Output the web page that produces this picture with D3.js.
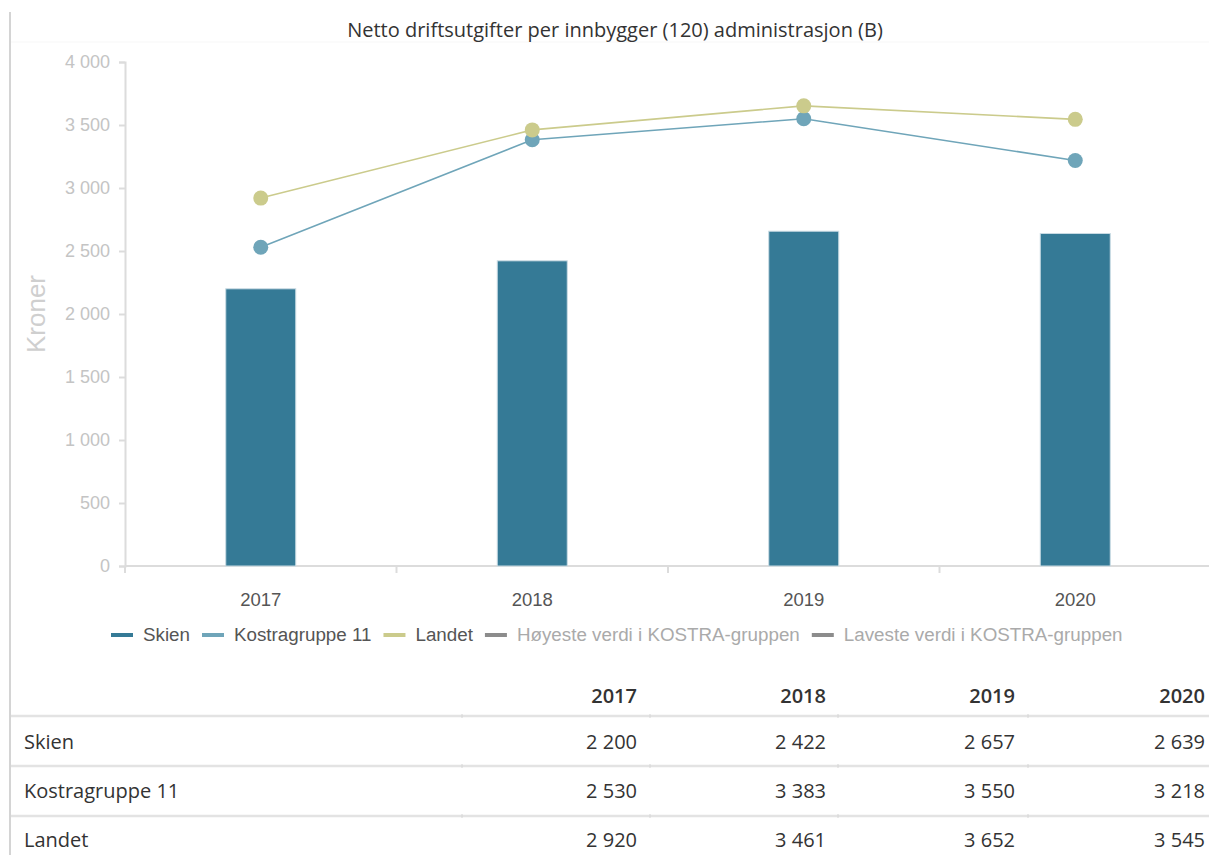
<!DOCTYPE html>
<html>
<head>
<meta charset="utf-8">
<script src="https://cdn.jsdelivr.net/npm/d3@7"></script>
<style>
	body { margin: 0; background: #fff; }
	svg { display: block; }
</style>
</head>
<body>
<svg id="chart" width="1209" height="855"></svg>
<script>
var years = ["2017", "2018", "2019", "2020"];
var skien = [2200, 2422, 2657, 2639];
var kostra = [2530, 3383, 3550, 3218];
var landet = [2920, 3461, 3652, 3545];
var yTicks = [0, 500, 1000, 1500, 2000, 2500, 3000, 3500, 4000];
var legendItems = [
	{name: "Skien", color: "#357a96", text: "#555"},
	{name: "Kostragruppe 11", color: "#6fa5b9", text: "#555"},
	{name: "Landet", color: "#cbcb8c", text: "#555"},
	{name: "Høyeste verdi i KOSTRA-gruppen", color: "#8c8c8c", text: "#aaa"},
	{name: "Laveste verdi i KOSTRA-gruppen", color: "#8c8c8c", text: "#aaa"}
];
var tableRows = [
	{name: "Skien", values: skien},
	{name: "Kostragruppe 11", values: kostra},
	{name: "Landet", values: landet}
];

var fmt = function(v){ return d3.format(",")(v).replace(/,/g, " "); };
var sans = "Liberation Sans, Arial, sans-serif";

var svg = d3.select("#chart");
var margin = {top: 62, left: 125, right: 1211, bottom: 566};

//Frame
svg.append("line")
	.attr("x1", 10).attr("x2", 10).attr("y1", 12).attr("y2", 855)
	.attr("stroke", "#d4d4d4").attr("stroke-width", 2);
svg.append("line")
	.attr("x1", 11).attr("x2", 1209).attr("y1", 42).attr("y2", 42)
	.attr("stroke", "#f7f7f7").attr("stroke-width", 1);

//Title
svg.append("text")
	.attr("x", 615).attr("y", 37)
	.attr("text-anchor", "middle")
	.attr("font-family", "Open Sans, sans-serif")
	.attr("font-size", 20)
	.attr("fill", "#333")
	.text("Netto driftsutgifter per innbygger (120) administrasjon (B)");

//Scales
var x = d3.scaleBand().domain(years).range([margin.left, margin.right]).padding(0);
var y = d3.scaleLinear().domain([0, 4000]).range([margin.bottom, margin.top]);

//Y axis
var yAxis = svg.append("g")
	.attr("transform", "translate(" + margin.left + ",0)")
	.call(d3.axisLeft(y).tickValues(yTicks).tickSize(6).tickPadding(9).tickFormat(fmt));
yAxis.select(".domain").attr("stroke", "#dcdcdc").attr("stroke-width", 2);
yAxis.selectAll(".tick line").attr("stroke", "#dcdcdc").attr("stroke-width", 2);
yAxis.selectAll(".tick text")
	.attr("font-family", sans)
	.attr("font-size", 18)
	.attr("fill", "#c4c4c4");

svg.append("text")
	.attr("transform", "translate(45,314) rotate(-90)")
	.attr("text-anchor", "middle")
	.attr("font-family", sans)
	.attr("font-size", 26)
	.attr("fill", "#cfcfcf")
	.text("Kroner");

//X axis
svg.append("line")
	.attr("x1", margin.left).attr("x2", 1209)
	.attr("y1", margin.bottom).attr("y2", margin.bottom)
	.attr("stroke", "#dcdcdc").attr("stroke-width", 2);
svg.selectAll(".xtick")
	.data(years)
	.enter().append("line")
	.attr("class", "xtick")
	.attr("x1", function(d){ return x(d); })
	.attr("x2", function(d){ return x(d); })
	.attr("y1", margin.bottom)
	.attr("y2", margin.bottom + 7)
	.attr("stroke", "#dcdcdc").attr("stroke-width", 2);
svg.selectAll(".xlabel")
	.data(years)
	.enter().append("text")
	.attr("x", function(d){ return x(d) + x.bandwidth() / 2; })
	.attr("y", 606)
	.attr("text-anchor", "middle")
	.attr("font-family", sans)
	.attr("font-size", 18.5)
	.attr("fill", "#555")
	.text(function(d){ return d; });

//Bars
var barW = 70;
svg.selectAll(".bar")
	.data(skien)
	.enter().append("rect")
	.attr("x", function(d, i){ return x(years[i]) + x.bandwidth() / 2 - barW / 2; })
	.attr("y", function(d){ return y(d); })
	.attr("width", barW)
	.attr("height", function(d){ return y(0) - y(d); })
	.attr("fill", "#357a96")
	.attr("stroke", "#c9dbe3")
	.attr("stroke-width", 1);

//Lines
var lineGen = d3.line()
	.x(function(d, i){ return x(years[i]) + x.bandwidth() / 2; })
	.y(function(d){ return y(d); });

[{vals: kostra, color: "#6fa5b9"}, {vals: landet, color: "#cbcb8c"}].forEach(function(s){
	svg.append("path")
		.attr("d", lineGen(s.vals))
		.attr("fill", "none")
		.attr("stroke", s.color)
		.attr("stroke-width", 1.6);
	svg.selectAll(null)
		.data(s.vals)
		.enter().append("circle")
		.attr("cx", function(d, i){ return x(years[i]) + x.bandwidth() / 2; })
		.attr("cy", function(d){ return y(d); })
		.attr("r", 7.5)
		.attr("fill", s.color);
});

//Legend
var legend = svg.append("g");
var lx = 111;
legendItems.forEach(function(item){
	legend.append("line")
		.attr("x1", lx).attr("x2", lx + 22)
		.attr("y1", 635).attr("y2", 635)
		.attr("stroke", item.color).attr("stroke-width", 4);
	var t = legend.append("text")
		.attr("x", lx + 32).attr("y", 641)
		.attr("font-family", sans)
		.attr("font-size", 18.8)
		.attr("fill", item.text)
		.text(item.name);
	lx += 32 + t.node().getComputedTextLength() + 12;
});

//Table
var colEdges = [10, 462, 650, 838, 1028, 1209];
var colRight = [637, 826, 1015, 1205];
var rowLines = [716, 766, 816];
var table = svg.append("g").attr("font-family", "Open Sans, sans-serif").attr("font-size", 20).attr("fill", "#333");

rowLines.forEach(function(ly){
	table.append("line")
		.attr("x1", 11).attr("x2", 1209).attr("y1", ly).attr("y2", ly)
		.attr("stroke", "#e3e3e3").attr("stroke-width", 2.5);
	colEdges.slice(1, 5).forEach(function(cx){
		table.append("line")
			.attr("x1", cx).attr("x2", cx).attr("y1", ly - 2).attr("y2", ly + 2)
			.attr("stroke", "#d6d6d6").attr("stroke-width", 1);
	});
});

years.forEach(function(yr, j){
	table.append("text")
		.attr("x", colRight[j])
		.attr("y", 703)
		.attr("text-anchor", "end")
		.attr("font-weight", 600)
		.text(yr);
});

tableRows.forEach(function(row, i){
	var ty = 749 + i * 49;
	table.append("text")
		.attr("x", 24).attr("y", ty)
		.text(row.name);
	row.values.forEach(function(v, j){
		table.append("text")
			.attr("x", colRight[j])
			.attr("y", ty)
			.attr("text-anchor", "end")
			.text(fmt(v));
	});
});
</script>
</body>
</html>
